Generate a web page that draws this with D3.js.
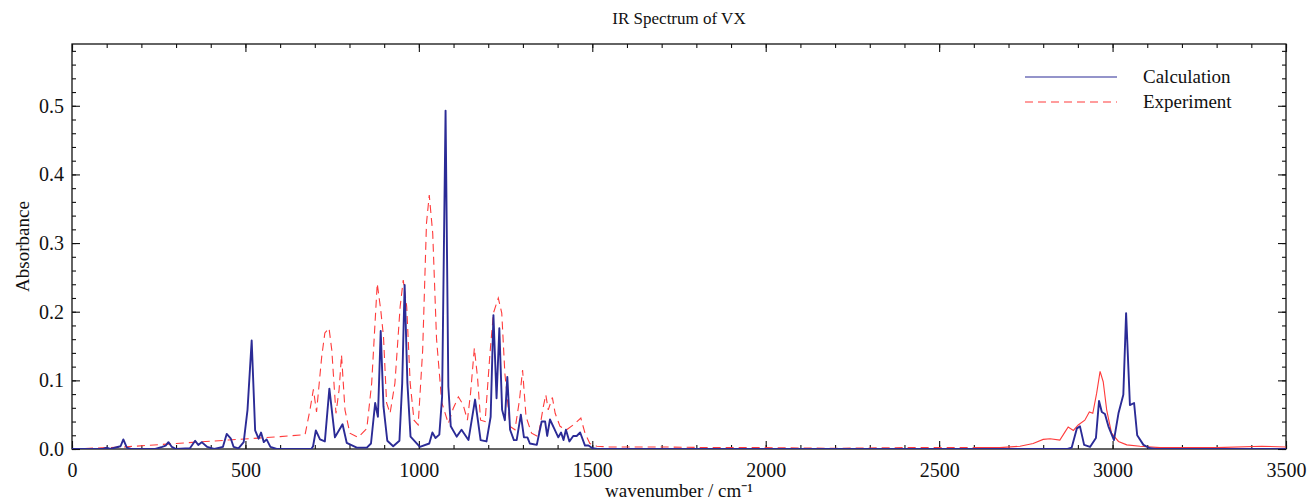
<!DOCTYPE html>
<html>
<head>
<meta charset="utf-8">
<script src="https://cdn.jsdelivr.net/npm/d3@7"></script>
<style>
  body { margin: 0; background: #fff; }
  svg text { font-family: "Liberation Serif", "Times New Roman", serif; fill: #111; }
</style>
</head>
<body>
<div id="chart"></div>
<script>
"use strict";

// Calculated spectrum (wavenumber / absorbance)
var calcWavenumber = [0, 90, 100, 110, 140, 148, 158, 170, 240, 260, 270, 278, 288, 300, 340, 355, 364, 374, 390, 410,
    435, 446, 458, 466, 480, 495, 506, 518, 528, 538, 545, 553, 561, 572, 590, 690, 695, 703, 715, 729,
    742, 758, 780, 792, 821, 850, 862, 874, 882, 890, 898, 909, 926, 944, 952, 959, 967, 976, 1003, 1030,
    1039, 1048, 1059, 1067, 1077, 1085, 1092, 1109, 1123, 1143, 1162, 1178, 1195, 1207, 1215, 1224, 1232, 1240, 1248, 1255,
    1263, 1274, 1282, 1294, 1303, 1313, 1320, 1340, 1354, 1364, 1370, 1378, 1390, 1402, 1410, 1417, 1424, 1434, 1445, 1455,
    1465, 1479, 1489, 1501, 1515, 2870, 2882, 2897, 2906, 2918, 2935, 2952, 2961, 2969, 2978, 2988, 3004, 3017, 3031, 3039,
    3050, 3062, 3071, 3089, 3108, 3125, 3500];
var calcAbsorbance = [0, 0, 0.002, 0, 0.004, 0.014, 0.002, 0, 0, 0.003, 0.005, 0.010, 0.003, 0, 0.001, 0.012, 0.006, 0.010, 0.003, 0,
    0.003, 0.022, 0.015, 0.003, 0.001, 0.010, 0.057, 0.158, 0.027, 0.015, 0.024, 0.010, 0.014, 0.003, 0, 0, 0.004, 0.027, 0.014, 0.011,
    0.088, 0.017, 0.036, 0.009, 0.002, 0.002, 0.008, 0.067, 0.047, 0.172, 0.062, 0.012, 0.004, 0.012, 0.096, 0.239, 0.096, 0.018, 0.003, 0.008,
    0.024, 0.016, 0.021, 0.076, 0.493, 0.091, 0.033, 0.018, 0.028, 0.013, 0.072, 0.013, 0.011, 0.047, 0.195, 0.074, 0.176, 0.057, 0.042, 0.105,
    0.028, 0.013, 0.013, 0.050, 0.017, 0.017, 0.008, 0.006, 0.040, 0.040, 0.019, 0.043, 0.030, 0.017, 0.024, 0.013, 0.028, 0.011, 0.019, 0.019,
    0.024, 0.005, 0.005, 0.001, 0, 0, 0.002, 0.030, 0.033, 0.006, 0.003, 0.016, 0.070, 0.054, 0.051, 0.033, 0.013, 0.052, 0.079, 0.198,
    0.064, 0.067, 0.020, 0.006, 0.001, 0, 0];

// Experimental spectrum
var expWavenumber = [0, 50, 150, 300, 450, 600, 672, 686, 696, 705, 720, 729, 741, 749, 761, 770, 777, 787, 801, 825,
    850, 864, 880, 890, 898, 907, 917, 931, 946, 955, 965, 975, 986, 998, 1011, 1022, 1030, 1040, 1051, 1066,
    1085, 1099, 1114, 1128, 1140, 1149, 1160, 1169, 1178, 1191, 1205, 1215, 1229, 1239, 1248, 1263, 1277, 1290, 1299, 1309,
    1325, 1344, 1359, 1366, 1373, 1385, 1393, 1407, 1426, 1445, 1467, 1479, 1493, 1513, 1550, 1700, 1850, 2000, 2200, 2400,
    2600, 2675, 2733, 2771, 2800, 2820, 2848, 2863, 2872, 2887, 2901, 2920, 2933, 2943, 2954, 2964, 2973, 2983, 2997, 3017,
    3041, 3079, 3137, 3300, 3430, 3500];
var expAbsorbance = [0, 0.001, 0.003, 0.008, 0.013, 0.018, 0.021, 0.057, 0.087, 0.054, 0.135, 0.169, 0.176, 0.144, 0.052, 0.086, 0.137, 0.057, 0.023, 0.017,
    0.030, 0.096, 0.241, 0.203, 0.164, 0.067, 0.052, 0.096, 0.207, 0.246, 0.207, 0.096, 0.042, 0.035, 0.144, 0.329, 0.370, 0.314, 0.160, 0.068,
    0.037, 0.059, 0.076, 0.064, 0.042, 0.081, 0.147, 0.105, 0.042, 0.040, 0.139, 0.198, 0.220, 0.198, 0.110, 0.033, 0.028, 0.071, 0.115, 0.047,
    0.023, 0.018, 0.062, 0.079, 0.057, 0.075, 0.052, 0.033, 0.028, 0.035, 0.045, 0.023, 0.008, 0.004, 0.003, 0.003, 0.002, 0.002, 0.001, 0.002,
    0.002, 0.002, 0.004, 0.008, 0.014, 0.015, 0.013, 0.025, 0.032, 0.027, 0.035, 0.042, 0.054, 0.052, 0.081, 0.113, 0.098, 0.057, 0.023, 0.011,
    0.006, 0.004, 0.002, 0.002, 0.004, 0.003];

var xTicks = [0, 500, 1000, 1500, 2000, 2500, 3000, 3500];
var yTicks = [0, 0.1, 0.2, 0.3, 0.4, 0.5];
var seriesNames = ["Calculation", "Experiment"];

var width = 1309, height = 500;
var margin = { top: 44, right: 23, bottom: 51, left: 72 };
var innerW = width - margin.left - margin.right;
var innerH = height - margin.top - margin.bottom;
var blue = "#2b2b96", red = "#ff3b3b";
var solidFrom = 2600; // the experimental trace is drawn solid above this wavenumber

var svg = d3.select("#chart").append("svg")
    .attr("width", width)
    .attr("height", height);

var g = svg.append("g")
    .attr("transform", "translate(" + margin.left + "," + margin.top + ")");

var x = d3.scaleLinear().domain([0, 3500]).range([0, innerW]);
var y = d3.scaleLinear().domain([0, 0.59]).range([innerH, 0]);

svg.append("defs").append("clipPath").attr("id", "plot-clip")
    .append("rect").attr("width", innerW).attr("height", innerH);

// Ticks on all four sides, pointing inward
var minorX = d3.range(0, 3501, 100);
var minorY = d3.range(0, 0.5901, 0.02);

function tickAxis(axis, ticks, size) {
    return axis.tickValues(ticks).tickSizeInner(-size).tickSizeOuter(0).tickFormat("");
}

g.append("g").attr("transform", "translate(0," + innerH + ")").call(tickAxis(d3.axisBottom(x), minorX, 4));
g.append("g").call(tickAxis(d3.axisTop(x), minorX, 4));
g.append("g").call(tickAxis(d3.axisLeft(y), minorY, 4));
g.append("g").attr("transform", "translate(" + innerW + ",0)").call(tickAxis(d3.axisRight(y), minorY, 4));

var xAxis = g.append("g").attr("transform", "translate(0," + innerH + ")")
    .call(d3.axisBottom(x).tickValues(xTicks).tickSizeInner(-8).tickSizeOuter(0).tickPadding(14).tickFormat(d3.format("d")));
g.append("g").call(tickAxis(d3.axisTop(x), xTicks, 8));
var yAxis = g.append("g")
    .call(d3.axisLeft(y).tickValues(yTicks).tickSizeInner(-8).tickSizeOuter(0).tickPadding(8).tickFormat(d3.format(".1f")));
g.append("g").attr("transform", "translate(" + innerW + ",0)").call(tickAxis(d3.axisRight(y), yTicks, 8));

g.selectAll(".domain").remove();
g.selectAll(".tick line").attr("stroke", "#111").attr("stroke-width", 1.1);
xAxis.selectAll("text").style("font-size", "20px").style("font-family", "Liberation Serif");
yAxis.selectAll("text").style("font-size", "20px").style("font-family", "Liberation Serif");

// Frame
g.append("rect")
    .attr("width", innerW)
    .attr("height", innerH)
    .attr("fill", "none")
    .attr("stroke", "#111")
    .attr("stroke-width", 1.3);

var line = d3.line()
    .x(function (d) { return x(d.w); })
    .y(function (d) { return y(d.a); });

function pairs(ws, as) {
    return ws.map(function (w, i) { return { w: w, a: as[i] }; });
}

var calcData = pairs(calcWavenumber, calcAbsorbance);
var expData = pairs(expWavenumber, expAbsorbance);

var plot = g.append("g").attr("clip-path", "url(#plot-clip)");

plot.append("path")
    .datum(expData.filter(function (d) { return d.w <= solidFrom; }))
    .attr("d", line)
    .attr("fill", "none")
    .attr("stroke", red)
    .attr("stroke-width", 1.1)
    .attr("stroke-dasharray", "8,5");

plot.append("path")
    .datum(expData.filter(function (d) { return d.w >= solidFrom; }))
    .attr("d", line)
    .attr("fill", "none")
    .attr("stroke", red)
    .attr("stroke-width", 1.1);

plot.append("path")
    .datum(calcData)
    .attr("d", line)
    .attr("fill", "none")
    .attr("stroke", blue)
    .attr("stroke-width", 1.9)
    .attr("stroke-linejoin", "round");

// Legend
var legend = g.append("g").attr("transform", "translate(" + (innerW - 261) + ",33)");
legend.selectAll("line")
    .data(seriesNames)
    .enter()
    .append("line")
    .attr("x1", 0)
    .attr("x2", 92)
    .attr("y1", function (d, i) { return i * 25; })
    .attr("y2", function (d, i) { return i * 25; })
    .attr("stroke", function (d, i) { return i === 0 ? blue : red; })
    .attr("stroke-width", 1.1)
    .attr("stroke-dasharray", function (d, i) { return i === 0 ? null : "8,5"; });
legend.selectAll("text")
    .data(seriesNames)
    .enter()
    .append("text")
    .attr("x", 118)
    .attr("y", function (d, i) { return i * 25 + 6; })
    .style("font-size", "19px")
    .text(function (d) { return d; });

// Titles
svg.append("text")
    .attr("x", margin.left + innerW / 2)
    .attr("y", 24)
    .attr("text-anchor", "middle")
    .style("font-size", "17px")
    .text("IR Spectrum of VX");

svg.append("text")
    .attr("x", margin.left + innerW / 2)
    .attr("y", 497)
    .attr("text-anchor", "middle")
    .style("font-size", "19px")
    .text("wavenumber / cm\u207B\u00B9");

svg.append("text")
    .attr("transform", "translate(29," + (margin.top + innerH / 2) + ") rotate(-90)")
    .attr("text-anchor", "middle")
    .style("font-size", "19px")
    .text("Absorbance");
</script>
</body>
</html>
